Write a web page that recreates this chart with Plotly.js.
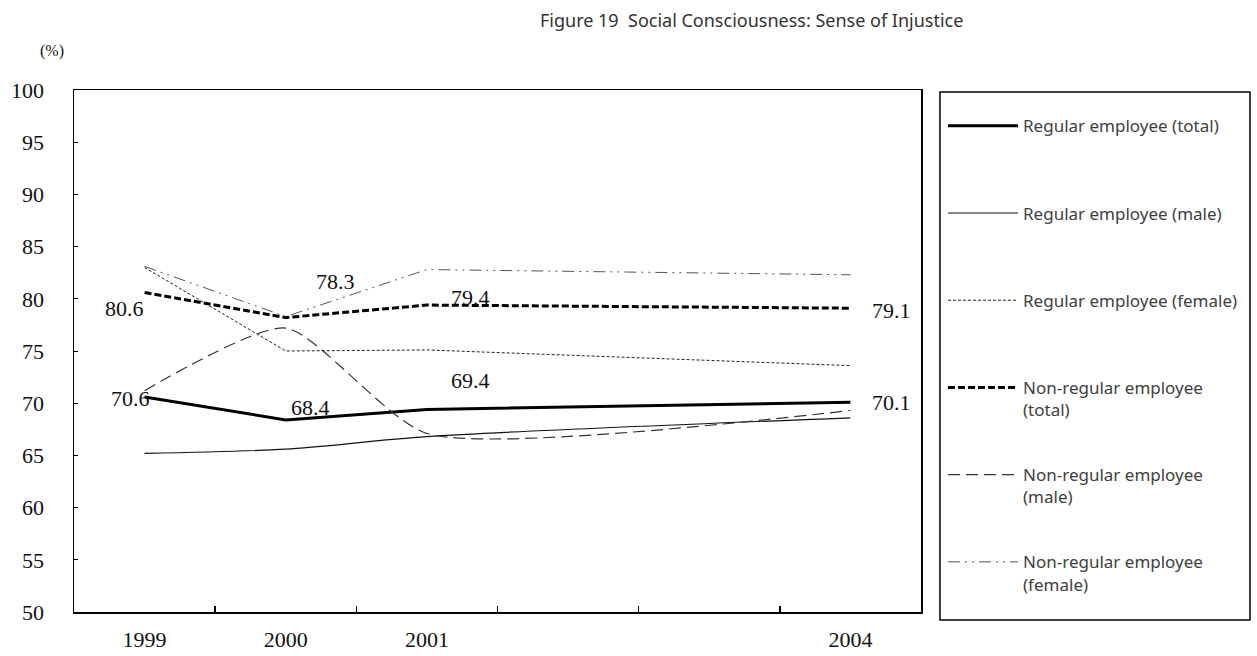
<!DOCTYPE html>
<html>
<head>
<meta charset="utf-8">
<script src="https://cdn.plot.ly/plotly-3.0.1.min.js"></script>
<style>html,body{margin:0;padding:0;background:#fff;}#chart{width:1257px;height:656px;}</style>
</head>
<body>
<div id="chart"></div>
<script>
// ---- data ----
const axisSlots = ["1999", "2000", "2001", "2002", "2003", "2004"];
const axisLabels = ["1999", "2000", "2001", "", "", "2004"];
const years = ["1999", "2000", "2001", "2004"];
const seriesNames = [
  "Regular employee (total)<br>&nbsp;",
  "Regular employee (male)<br>&nbsp;",
  "Regular employee (female)<br>&nbsp;",
  "Non-regular employee<br>(total)",
  "Non-regular employee<br>(male)",
  "Non-regular employee<br>(female)"
];
const regularTotal   = [70.6, 68.4, 69.4, 70.1];
const regularMale    = [65.2, 65.6, 66.8, 68.6];
const regularFemale  = [83.0, 75.0, 75.1, 73.6];
const nonRegTotal    = [80.6, 78.2, 79.4, 79.1];
const nonRegMale     = [71.2, 77.2, 67.1, 69.3];
const nonRegFemale   = [83.1, 78.3, 82.8, 82.3];

// value labels
const labelYears  = ["1999", "1999", "2000", "2000", "2001", "2001", "2004", "2004"];
const labelValues = [80.6, 70.6, 68.4, 78.3, 79.4, 69.4, 79.1, 70.1];

const serif = "Liberation Serif, serif";
const styles = [
  {color: "#000", width: 3, dash: "solid", shape: "linear", smoothing: 1},
  {color: "#111", width: 1.2, dash: "solid", shape: "spline", smoothing: 0.8},
  {color: "#222", width: 1, dash: "3px,2px", shape: "linear", smoothing: 1},
  {color: "#000", width: 3, dash: "7px,3px", shape: "linear", smoothing: 1},
  {color: "#333", width: 1.2, dash: "12px,6px", shape: "spline", smoothing: 0.6},
  {color: "#555", width: 1, dash: "12px,5px,2px,5px,2px,5px", shape: "linear", smoothing: 1}
];
const allSeries = [regularTotal, regularMale, regularFemale, nonRegTotal, nonRegMale, nonRegFemale];

const traces = allSeries.map((vals, i) => ({
  type: "scatter", mode: "lines",
  x: years, y: vals, name: seriesNames[i],
  legendgroup: "g" + i,
  line: {color: styles[i].color, width: styles[i].width, dash: styles[i].dash,
         shape: styles[i].shape, smoothing: styles[i].smoothing},
  hoverinfo: "skip"
}));

// label offsets (style)
const shifts = [[-20, -16], [-14, -2], [25, 12], [50, 35], [44, 8], [44, 29], [41, -2], [41, 0]];
const annotations = labelValues.map((v, i) => ({
  x: axisSlots.indexOf(labelYears[i]), y: v, xref: "x", yref: "y",
  text: v.toFixed(1), showarrow: false,
  xshift: shifts[i][0], yshift: shifts[i][1],
  font: {family: serif, size: 22, color: "#111"}
}));
annotations.push({
  xref: "paper", yref: "paper", x: -0.026, y: 1.0747,
  xanchor: "center", yanchor: "middle",
  text: "(%)", showarrow: false,
  font: {family: serif, size: 16, color: "#111"}
});

const layout = {
  width: 1257, height: 656,
  margin: {l: 74, r: 336, t: 90, b: 44},
  paper_bgcolor: "#fff", plot_bgcolor: "#fff",
  title: {
    text: "Figure 19  Social Consciousness: Sense of Injustice",
    x: 0.598, xanchor: "center", y: 0.968, yanchor: "middle",
    font: {family: "Noto Sans, sans-serif", size: 18, color: "#333"}
  },
  showlegend: true,
  legend: {
    x: 1.026, xanchor: "left", y: 0.965, yanchor: "top",
    bgcolor: "rgba(0,0,0,0)", borderwidth: 0,
    itemwidth: 70, tracegroupgap: 40, valign: "top",
    font: {family: "Noto Sans, sans-serif", size: 17, color: "#404040"}
  },
  xaxis: {
    type: "category", categoryorder: "array", categoryarray: axisSlots,
    tickvals: axisSlots, ticktext: axisLabels,
    range: [-0.5, 5.5], tickson: "boundaries",
    ticks: "inside", ticklen: 6, tickcolor: "#000", tickwidth: 1.5,
    showline: true, linecolor: "#000", linewidth: 1.5, mirror: true,
    showgrid: false, zeroline: false, ticklabelstandoff: 7,
    tickfont: {family: serif, size: 22, color: "#111"}
  },
  yaxis: {
    range: [50, 100], dtick: 5, tick0: 50,
    ticks: "inside", ticklen: 4, tickcolor: "#000", tickwidth: 1,
    showline: true, linecolor: "#000", linewidth: 1.5, mirror: true,
    showgrid: false, zeroline: false, ticklabelstandoff: 24,
    tickfont: {family: serif, size: 22, color: "#111"}
  },
  shapes: [{
    type: "rect", xref: "paper", yref: "paper",
    x0: 1.0224, x1: 1.3884, y0: -0.0153, y1: 0.996,
    line: {color: "#000", width: 1.5}, fillcolor: "rgba(0,0,0,0)"
  }],
  annotations: annotations
};

Plotly.newPlot("chart", traces, layout, {displayModeBar: false, staticPlot: true});
</script>
</body>
</html>
